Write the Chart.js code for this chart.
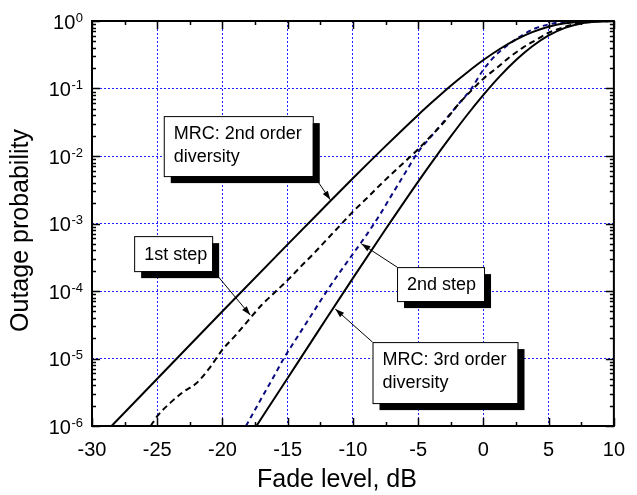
<!DOCTYPE html>
<html>
<head>
<meta charset="utf-8">
<style>
  html, body { margin: 0; padding: 0; background: #fff; }
  canvas { display: block; }
</style>
<script src="https://cdn.jsdelivr.net/npm/chart.js@4/dist/chart.umd.min.js"></script>
</head>
<body>
<canvas id="chart" width="637" height="495"></canvas>
<script>
const FONT = "'Liberation Sans', Arial, sans-serif";

// fade level (dB) -> outage probability
const mrc2X = [-28.5, -25, -20, -15, -12.5, -10, -7.5, -5, -3.75, -2.5, -1.25, 0, 1.25, 2.5, 3.75, 5, 6.25, 7.5, 8.75, 10];
const mrc2Y = [1.0e-6, 5.0e-6, 5.0e-5, 4.9e-4, 1.52e-3, 4.68e-3, 1.40e-2, 4.06e-2, 6.73e-2, 0.110, 0.173, 0.264, 0.385, 0.531, 0.685, 0.824, 0.923, 0.976, 0.995, 0.9995];

const step1X = [-25.5, -25, -24, -23, -22, -21, -20, -19, -18, -17, -16, -15, -14, -13, -12, -11, -10, -9, -8, -7, -6, -5, -4, -3, -2, -1, 0, 1, 2, 3, 4, 5, 6, 7, 8, 9, 10];
const step1Y = [1.0e-6, 1.4e-6, 2.2e-6, 3.2e-6, 4.3e-6, 7.2e-6, 1.35e-5, 2.2e-5, 3.7e-5, 6.2e-5, 9.5e-5, 1.45e-4, 2.3e-4, 3.6e-4, 5.8e-4, 9.3e-4, 1.5e-3, 2.3e-3, 3.6e-3, 5.5e-3, 8.3e-3, 1.26e-2, 2.0e-2, 3.2e-2, 5.6e-2, 9.0e-2, 0.14, 0.2, 0.29, 0.4, 0.52, 0.67, 0.79, 0.9, 0.96, 0.99, 1.0];

const step2X = [-18.2, -17, -16, -15.3, -14, -13, -12, -11, -10, -9, -8, -7, -6, -5, -4, -3, -2, -1, 0, 1, 2, 3, 4, 5, 6, 7, 8.5, 10];
const step2Y = [1.0e-6, 2.6e-6, 5.7e-6, 1.0e-5, 2.5e-5, 5.0e-5, 1.0e-4, 1.9e-4, 3.55e-4, 6.6e-4, 1.29e-3, 2.7e-3, 5.6e-3, 1.15e-2, 1.95e-2, 3.3e-2, 5.6e-2, 9.5e-2, 0.19, 0.32, 0.46, 0.62, 0.78, 0.89, 0.965, 0.995, 1.0, 1.0];

const mrc3X = [-17.4, -15, -12.5, -10, -7.5, -5, -3.75, -2.5, -1.25, 0, 1.25, 2.5, 3.75, 5, 6.25, 7.5, 8.75, 10];
const mrc3Y = [1.0e-6, 5.15e-6, 2.84e-5, 1.55e-4, 8.2e-4, 4.17e-3, 9.14e-3, 1.95e-2, 4.05e-2, 8.03e-2, 0.151, 0.264, 0.423, 0.612, 0.792, 0.919, 0.980, 0.997];

const xTicks = [-30, -25, -20, -15, -10, -5, 0, 5, 10];
const yExps = [0, -1, -2, -3, -4, -5, -6];

const toPoints = (xs, ys) => xs.map((x, i) => ({ x, y: ys[i] }));

// callout boxes: top-left corner in data units, arrow tip on the curve
const notes = [
  { lines: ['MRC: 2nd order', 'diversity'], x: -24.5, y: 3.9e-2, w: 149, h: 60, from: [149, 58], tip: [-11.73, 2.24e-3] },
  { lines: ['1st step'], x: -26.77, y: 6.5e-4, w: 78, h: 35, from: [82, 38], tip: [-17.87, 4.4e-5] },
  { lines: ['2nd step'], x: -6.62, y: 2.26e-4, w: 87, h: 34, from: [0, 0], tip: [-9.35, 5.0e-4] },
  { lines: ['MRC: 3rd order', 'diversity'], x: -8.5, y: 1.75e-5, w: 145, h: 61, from: [0, 0], tip: [-11.35, 5.4e-5] },
];

function drawArrow(ctx, x1, y1, x2, y2) {
  const ang = Math.atan2(y2 - y1, x2 - x1);
  ctx.beginPath();
  ctx.moveTo(x1, y1);
  ctx.lineTo(x2, y2);
  ctx.stroke();
  ctx.beginPath();
  ctx.moveTo(x2, y2);
  ctx.lineTo(x2 - 9 * Math.cos(ang) + 3 * Math.sin(ang), y2 - 9 * Math.sin(ang) - 3 * Math.cos(ang));
  ctx.lineTo(x2 - 9 * Math.cos(ang) - 3 * Math.sin(ang), y2 - 9 * Math.sin(ang) + 3 * Math.cos(ang));
  ctx.closePath();
  ctx.fill();
}

const calloutPlugin = {
  id: 'callouts',
  afterDatasetsDraw(chart) {
    const { ctx, scales: { x, y } } = chart;
    ctx.save();
    notes.forEach(n => {
      const bx = x.getPixelForValue(n.x);
      const by = y.getPixelForValue(n.y);
      ctx.strokeStyle = '#000';
      ctx.fillStyle = '#000';
      ctx.lineWidth = 1;
      drawArrow(ctx, bx + n.from[0], by + n.from[1], x.getPixelForValue(n.tip[0]), y.getPixelForValue(n.tip[1]));
      ctx.fillRect(bx + 7, by + 7, n.w, n.h);
      ctx.fillStyle = '#fff';
      ctx.fillRect(bx, by, n.w, n.h);
      ctx.strokeRect(bx + 0.5, by + 0.5, n.w, n.h);
      ctx.fillStyle = '#000';
      ctx.font = '18px ' + FONT;
      ctx.textBaseline = 'middle';
      ctx.textAlign = 'left';
      const top = n.lines.length > 1 ? 18 : n.h / 2 + 1;
      n.lines.forEach((t, i) => ctx.fillText(t, bx + 10, by + top + i * 23));
    });
    ctx.restore();
  },
};

const framePlugin = {
  id: 'frame',
  afterDraw(chart) {
    const { ctx, chartArea: a, scales: { x, y } } = chart;
    ctx.save();
    ctx.strokeStyle = '#000';
    ctx.lineWidth = 1.5;
    ctx.beginPath();
    for (let v = xTicks[0]; v <= xTicks[xTicks.length - 1]; v += 2.5) {
      const px = Math.round(x.getPixelForValue(v)) + 0.5;
      const len = v % 5 === 0 ? 8 : 4;
      ctx.moveTo(px, a.bottom); ctx.lineTo(px, a.bottom - len);
      ctx.moveTo(px, a.top); ctx.lineTo(px, a.top + len);
    }
    yExps.forEach(e => {
      for (let k = 1; k <= 9; k++) {
        if (e === 0 && k > 1) break;
        const py = Math.round(y.getPixelForValue(k * Math.pow(10, e))) + 0.5;
        const len = k === 1 ? 8 : 4;
        ctx.moveTo(a.left, py); ctx.lineTo(a.left + len, py);
        ctx.moveTo(a.right, py); ctx.lineTo(a.right - len, py);
      }
    });
    ctx.stroke();
    ctx.lineWidth = 2;
    ctx.strokeRect(a.left, a.top, a.right - a.left, a.bottom - a.top);

    // y tick labels as 10^n
    ctx.fillStyle = '#000';
    ctx.textBaseline = 'middle';
    ctx.textAlign = 'right';
    yExps.forEach(e => {
      const py = y.getPixelForValue(Math.pow(10, e));
      const exp = String(e);
      ctx.font = '13px ' + FONT;
      const w = ctx.measureText(exp).width;
      ctx.fillText(exp, a.left - 9, py - 3);
      ctx.font = '20px ' + FONT;
      ctx.fillText('10', a.left - 9 - w - 0.5, py + 2);
    });

    // axis titles
    ctx.font = '25px ' + FONT;
    ctx.textAlign = 'center';
    ctx.fillText('Fade level, dB', (a.left + a.right) / 2 - 16, 480);
    ctx.translate(21, (a.top + a.bottom) / 2 + 7);
    ctx.rotate(-Math.PI / 2);
    ctx.fillText('Outage probability', 0, 0);
    ctx.restore();
  },
};

const line = (xs, ys, color, dash) => ({
  data: toPoints(xs, ys),
  borderColor: color,
  borderWidth: 2,
  borderDash: dash,
  pointRadius: 0,
  cubicInterpolationMode: 'monotone',
  fill: false,
});

new Chart(document.getElementById('chart'), {
  type: 'line',
  data: {
    datasets: [
      line(mrc2X, mrc2Y, '#000', []),
      line(step1X, step1Y, '#000', [6, 4]),
      line(step2X, step2Y, '#0a0a80', [5, 4]),
      line(mrc3X, mrc3Y, '#000', []),
    ],
  },
  options: {
    responsive: false,
    animation: false,
    devicePixelRatio: 1,
    layout: { padding: { left: 0, right: 13, top: 21, bottom: 0 } },
    plugins: { legend: { display: false }, tooltip: { enabled: false } },
    scales: {
      x: {
        type: 'linear',
        min: -30,
        max: 10,
        afterBuildTicks: s => { s.ticks = xTicks.map(v => ({ value: v })); },
        afterFit: s => { s.height = 69; },
        grid: { color: '#2020ff', lineWidth: 1, drawTicks: false },
        border: { display: false, dash: [2, 2] },
        ticks: { color: '#000', font: { family: FONT, size: 20 }, padding: 12, maxRotation: 0, autoSkip: false },
      },
      y: {
        type: 'logarithmic',
        min: 1e-6,
        max: 1,
        afterBuildTicks: s => { s.ticks = yExps.map(e => ({ value: Math.pow(10, e) })); },
        afterFit: s => { s.width = 92; },
        grid: { color: '#2020ff', lineWidth: 1, drawTicks: false },
        border: { display: false, dash: [2, 2] },
        ticks: { display: false },
      },
    },
  },
  plugins: [calloutPlugin, framePlugin],
});
</script>
</body>
</html>
